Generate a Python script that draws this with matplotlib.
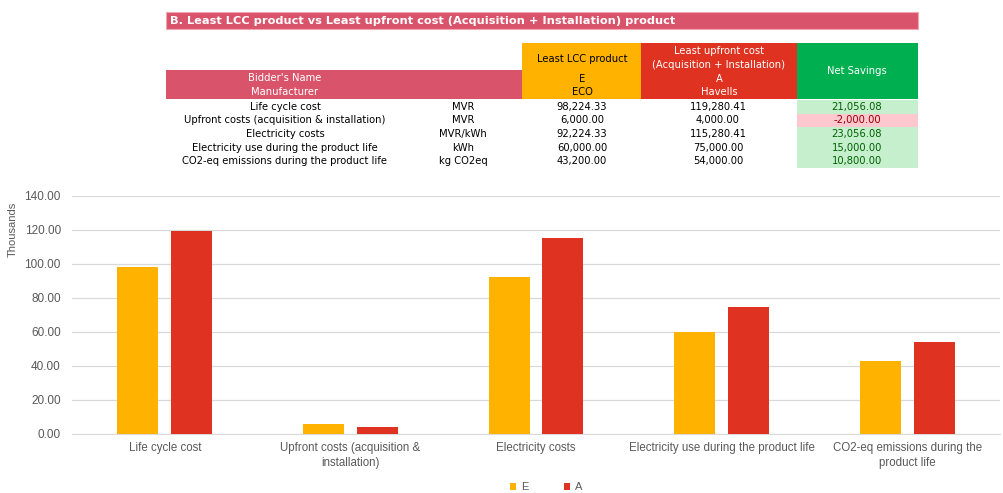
import matplotlib
matplotlib.use("Agg")
import matplotlib.pyplot as plt
from matplotlib.patches import Rectangle
import numpy as np

# ---------------- data ----------------
title = "B. Least LCC product vs Least upfront cost (Acquisition + Installation) product"
row_labels = ["Life cycle cost",
              "Upfront costs (acquisition & installation)",
              "Electricity costs",
              "Electricity use during the product life",
              "CO2-eq emissions during the product life"]
units = ["MVR", "MVR", "MVR/kWh", "kWh", "kg CO2eq"]
e_values = [98224.33, 6000.00, 92224.33, 60000.00, 43200.00]
a_values = [119280.41, 4000.00, 115280.41, 75000.00, 54000.00]
net_savings = [21056.08, -2000.00, 23056.08, 15000.00, 10800.00]
cat_labels = ["Life cycle cost",
              "Upfront costs (acquisition &\ninstallation)",
              "Electricity costs",
              "Electricity use during the product life",
              "CO2-eq emissions during the\nproduct life"]
series_names = ["E", "A"]
yticks = [0, 20, 40, 60, 80, 100, 120, 140]

C_ORANGE = "#FFB300"
C_RED = "#DF3220"
C_PINK = "#D9546B"
C_GREEN = "#00B050"

W, H = 1004, 493
fig = plt.figure(figsize=(W / 100, H / 100), dpi=100)
fig.patch.set_facecolor("white")

# ---------------- table overlay (pixel coordinates) ----------------
ov = fig.add_axes([0, 0, 1, 1])
ov.set_xlim(0, W)
ov.set_ylim(H, 0)
ov.axis("off")

def rect(x0, y0, x1, y1, fc, ec="none", lw=0):
    ov.add_patch(Rectangle((x0, y0), x1 - x0, y1 - y0, facecolor=fc, edgecolor=ec, linewidth=lw))

tf = dict(family="DejaVu Sans", fontsize=7.2)

# Title bar
rect(166, 12, 918, 29, C_PINK, ec="#EFA5B2", lw=0.8)
ov.text(170, 20.5, title, ha="left", va="center", color="white", fontweight="bold",
        family="DejaVu Sans", fontsize=8.2)

# Header
rect(166, 70, 522, 99, C_PINK)
ov.text(285, 78, "Bidder's Name", ha="center", va="center", color="white", **tf)
ov.text(285, 92, "Manufacturer", ha="center", va="center", color="white", **tf)
rect(522, 43, 641, 99, C_ORANGE)
ov.text(582, 59, "Least LCC product", ha="center", va="center", color="black", **tf)
ov.text(582, 79, "E", ha="center", va="center", color="black", **tf)
ov.text(582, 92, "ECO", ha="center", va="center", color="black", **tf)
rect(641, 43, 797, 99, C_RED)
ov.text(719, 51, "Least upfront cost", ha="center", va="center", color="white", **tf)
ov.text(719, 65, "(Acquisition + Installation)", ha="center", va="center", color="white", **tf)
ov.text(719, 79, "A", ha="center", va="center", color="white", **tf)
ov.text(719, 92, "Havells", ha="center", va="center", color="white", **tf)
rect(797, 43, 918, 99, C_GREEN)
ov.text(857, 71, "Net Savings", ha="center", va="center", color="white", **tf)

row_h = 13.6
y0 = 100
for i in range(len(row_labels)):
    yc = y0 + row_h * (i + 0.5)
    ov.text(285, yc, row_labels[i], ha="center", va="center", color="black", **tf)
    ov.text(463, yc, units[i], ha="center", va="center", color="black", **tf)
    ov.text(582, yc, f"{e_values[i]:,.2f}", ha="center", va="center", color="black", **tf)
    ov.text(718, yc, f"{a_values[i]:,.2f}", ha="center", va="center", color="black", **tf)
    neg = net_savings[i] < 0
    rect(797, y0 + row_h * i, 918, y0 + row_h * (i + 1), "#FFC7CE" if neg else "#C6EFCE")
    ov.text(857, yc, f"{net_savings[i]:,.2f}", ha="center", va="center",
            color="#9C0006" if neg else "#006100", **tf)

# ---------------- chart ----------------
ax_left, ax_right, ax_top, ax_bot = 72, 1000, 196, 434
ax = fig.add_axes([ax_left / W, (H - ax_bot) / H, (ax_right - ax_left) / W, (ax_bot - ax_top) / H])
ax.set_zorder(2)
ax.patch.set_alpha(0)

x = np.arange(len(cat_labels))
bw = 0.22
off = 0.145
e_k = [v / 1000 for v in e_values]
a_k = [v / 1000 for v in a_values]
ax.bar(x - off, e_k, bw, color=C_ORANGE, label=series_names[0], zorder=3)
ax.bar(x + off, a_k, bw, color=C_RED, label=series_names[1], zorder=3)

ax.set_xlim(-0.5, len(cat_labels) - 0.5)
ax.set_ylim(0, 140)
ax.set_yticks(yticks)
ax.set_yticklabels([f"{t:.2f}" for t in yticks])
ax.yaxis.grid(True, color="#D9D9D9", linewidth=0.9, zorder=0)
ax.set_axisbelow(True)
for s in ["top", "right", "left"]:
    ax.spines[s].set_visible(False)
ax.spines["bottom"].set_color("#D9D9D9")
ax.tick_params(axis="y", length=0, labelsize=8.5, colors="#595959", pad=8)
ax.tick_params(axis="x", length=0, colors="#595959", pad=6)
ax.set_xticks(x)
ax.set_xticklabels(cat_labels, fontfamily="Liberation Sans", fontsize=8.3, linespacing=1.35)
for lab in ax.get_yticklabels():
    lab.set_fontfamily("Liberation Sans")
ax.set_ylabel("Thousands", fontsize=8, color="#595959", family="Liberation Sans")
ax.yaxis.set_label_coords(-0.058, 0.86)

leg = fig.legend(loc="center", bbox_to_anchor=(546 / W, (H - 487) / H), ncol=2, frameon=False,
                 handlelength=0.6, handleheight=0.6, handletextpad=0.4, columnspacing=3.2,
                 prop={"family": "Liberation Sans", "size": 8})
for t in leg.get_texts():
    t.set_color("#595959")

fig.savefig("out.png", dpi=100, facecolor="white")
